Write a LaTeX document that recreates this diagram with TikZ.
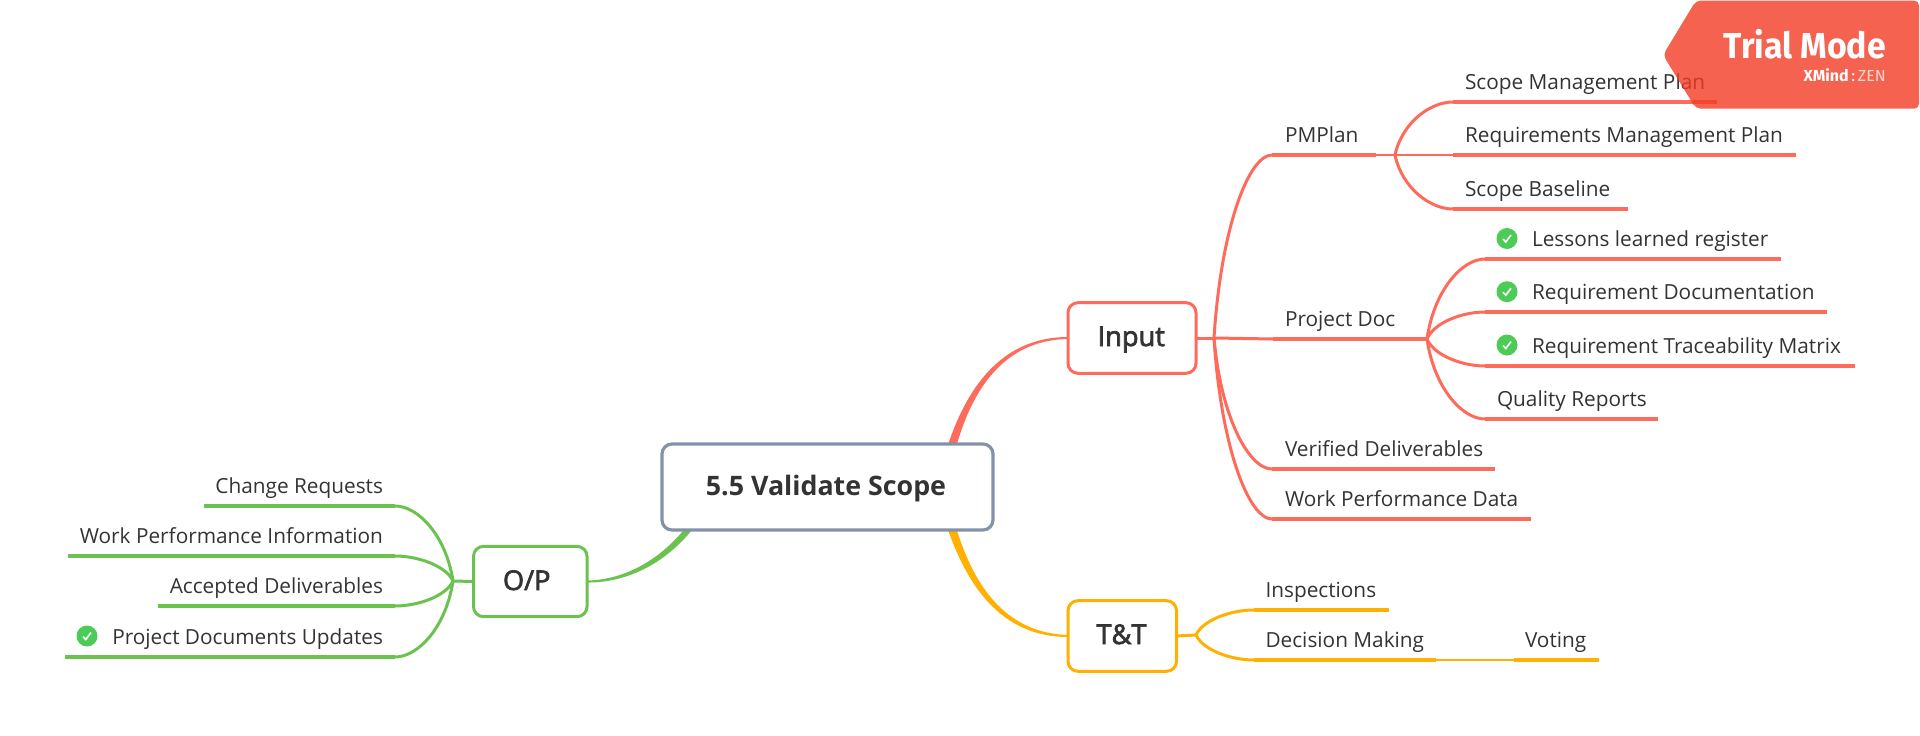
\documentclass[tikz,border=0pt]{standalone}
\usepackage{fontspec}
\setmainfont{Open Sans}
\newfontfamily\badgefont{Fira Sans}
\newfontfamily\boxfont[FakeBold=2.5]{Open Sans}
\usetikzlibrary{calc}
\definecolor{cred}{HTML}{FF6B5A}
\definecolor{cgreen}{HTML}{6CC24F}
\definecolor{corange}{HTML}{FFB000}
\definecolor{crootb}{HTML}{8492A8}
\definecolor{cicon}{HTML}{4CCB56}
\definecolor{ctext}{HTML}{333333}
\definecolor{cbadge}{HTML}{F23C24}
\tikzset{
  x=1pt,y=-1pt,
  box/.style={draw,fill=white,rounded corners=10pt,line width=3pt,inner sep=0pt,outer sep=0pt,text=ctext,font=\boxfont\fontsize{27.2}{32}\selectfont},
  rootbox/.style={box,draw=crootb,line width=3.2pt,font=\fontsize{26.8}{32}\selectfont\bfseries},
  topic/.style={inner sep=0pt,outer sep=0pt,text=ctext,font=\fontsize{20.8}{24}\selectfont},
  wire/.style={line width=3pt},
  rule/.style={line width=3.6pt},
  thin link/.style={line width=2.6pt},
  okdot/.style={circle,fill=cicon,minimum size=21pt,inner sep=0pt,outer sep=0pt},
}
% text on a baseline a given distance below the box centre
\newcommand\onbase[2]{\raisebox{-#1pt}[0pt][0pt]{#2}}
% curve from hub to line start
\newcommand\linkto[3]{\draw[wire,#1] (#2) .. controls ($(#2)!0.55!(#2|-#3)!0.12!(#3)$) and ($(#3)!0.4!(#2|-#3)$) .. (#3);}
% topic: name, colour, xleft, xright, yline, xtext, text (left aligned)
\newcommand\topicL[7]{%
  \coordinate (#1-a) at (#3,#5);\coordinate (#1-b) at (#4,#5);
  \draw[rule,#2] (#1-a) -- (#1-b);
  \node[topic,anchor=base west] (#1) at (#6,#5-12.5) {#7};}
% topic right aligned at xtext
\newcommand\topicR[7]{%
  \coordinate (#1-a) at (#3,#5);\coordinate (#1-b) at (#4,#5);
  \draw[rule,#2] (#1-a) -- (#1-b);
  \node[topic,anchor=base east] (#1) at (#6,#5-12.5) {#7};}
\newcommand\okmark[3]{%
  \node[okdot] (#1) at (#2,#3) {};
  \draw[white,line width=1.6pt] ($(#1)+(-4,0.5)$) -- ($(#1)+(-1.2,3.5)$) -- ($(#1)+(4,-3.5)$);}
\begin{document}
\begin{tikzpicture}
\useasboundingbox (0,0) rectangle (1920,736);
% hubs
\coordinate (hubI) at (1214,338);
\coordinate (hubPM) at (1395,155);
\coordinate (hubPD) at (1427,339);
\coordinate (hubT) at (1196,635);
\coordinate (hubO) at (453,581);
% boxes
\node[box,draw=cred,minimum width=128pt,minimum height=70.6pt] (input) at (1132,338) {\kern-1.5pt\onbase{8}{Input}};
\node[box,draw=corange,minimum width=108.5pt,minimum height=70.6pt] (tt) at (1122.25,636) {\kern-1.5pt\onbase{8}{T\&T}};
\node[box,draw=cgreen,minimum width=113.5pt,minimum height=70.3pt] (op) at (530.25,581.5) {\kern-7pt\onbase{8.5}{O/P}};
% tapered main branches
\fill[cred] ($(input.west)+(-122,113)$) .. controls (965,390) and (1000,337) .. ($(input.west)+(0,-1)$) -- ($(input.west)+(0,1)$) .. controls (1003,340) and (971,391) .. ($(input.west)+(-113,113)$) -- cycle;
\fill[corange] ($(tt.west)+(-122,-112)$) .. controls (966,584) and (1000,637) .. ($(tt.west)+(0,1)$) -- ($(tt.west)+(0,-1)$) .. controls (1003,633) and (972,582) .. ($(tt.west)+(-113,-112)$) -- cycle;
\fill[cgreen] ($(op.east)+(102,-58)$) .. controls (658,564) and (620,580) .. ($(op.east)+(0,-1)$) -- ($(op.east)+(0,1)$) .. controls (622,583) and (665,567) .. ($(op.east)+(110,-58)$) -- cycle;
\node[rootbox,minimum width=331pt,minimum height=86pt] (root) at (827.5,487) {\kern-3pt\onbase{8}{5.5 Validate Scope}};
% Input side
\draw[wire,cred] (input.east) -- (hubI);
\topicL{pmp}{cred}{1272}{1376}{155}{1285}{PMPlan}
\topicL{pdoc}{cred}{1273}{1427}{339}{1285}{Project Doc}
\topicL{ver}{cred}{1272}{1495}{469}{1285}{Verified Deliverables}
\topicL{wpd}{cred}{1272}{1531}{519}{1285}{Work Performance Data}
\draw[wire,cred] (hubI) -- (pdoc-a);
\linkto{cred}{hubI}{pmp-a}
\linkto{cred}{hubI}{ver-a}
\linkto{cred}{hubI}{wpd-a}
% PMPlan children
\topicL{smp}{cred}{1453}{1717}{102}{1465}{Scope Management Plan}
\topicL{rmp}{cred}{1453}{1796}{155}{1465}{Requirements Management Plan}
\topicL{sb}{cred}{1453}{1628}{209}{1465}{Scope Baseline}
\draw[thin link,cred] (pmp-b) -- (rmp-a);
\linkto{cred}{hubPM}{smp-a}
\linkto{cred}{hubPM}{sb-a}
% Project Doc children
\topicL{llr}{cred}{1485}{1781}{259}{1532}{Lessons learned register}
\topicL{rd}{cred}{1485}{1827}{312}{1532}{Requirement Documentation}
\topicL{rtm}{cred}{1485}{1855}{366}{1532}{Requirement Traceability Matrix}
\topicL{qr}{cred}{1485}{1658}{419}{1497}{Quality Reports}
\linkto{cred}{hubPD}{llr-a}
\linkto{cred}{hubPD}{rd-a}
\linkto{cred}{hubPD}{rtm-a}
\linkto{cred}{hubPD}{qr-a}
\okmark{okA}{1507}{238.5}
\okmark{okB}{1507}{291.7}
\okmark{okC}{1507}{345}
% T&T side
\draw[wire,corange] (tt.east) -- (hubT);
\topicL{ins}{corange}{1254}{1389}{610}{1265.5}{Inspections}
\topicL{dm}{corange}{1254}{1436}{660}{1265.5}{Decision Making}
\topicL{vot}{corange}{1514}{1599}{660}{1525}{Voting}
\draw[thin link,corange] (dm-b) -- (vot-a);
\linkto{corange}{hubT}{ins-a}
\linkto{corange}{hubT}{dm-a}
% O/P side
\draw[wire,cgreen] (op.west) -- (hubO);
\topicR{cr}{cgreen}{395}{204}{506}{383}{Change Requests}
\topicR{wpi}{cgreen}{395}{68}{556}{383}{Work Performance Information}
\topicR{ad}{cgreen}{395}{158}{606}{383}{Accepted Deliverables}
\topicR{pdu}{cgreen}{395}{64.5}{657}{383}{Project Documents Updates}
\linkto{cgreen}{hubO}{cr-a}
\linkto{cgreen}{hubO}{wpi-a}
\linkto{cgreen}{hubO}{ad-a}
\linkto{cgreen}{hubO}{pdu-a}
\okmark{okD}{87}{636}
% trial badge
\fill[cbadge,fill opacity=0.8,rounded corners=5pt] (1696,0.5) -- (1663,55) -- (1696,108.7) -- (1919,108.7) -- (1919,0.5) -- cycle;
\node[inner sep=0pt,anchor=base east,text=white,font=\badgefont\fontsize{36}{40}\selectfont\bfseries] (trial) at (1886,58) {\scalebox{0.94}[1]{Trial Mode}};
\node[inner sep=0pt,anchor=base east,text=white,font=\badgefont\fontsize{16}{18}\selectfont] (zen) at (1886,81) {\textbf{XMind}\,:\,\textcolor{white!80!cbadge}{ZEN}};
\end{tikzpicture}
\end{document}
